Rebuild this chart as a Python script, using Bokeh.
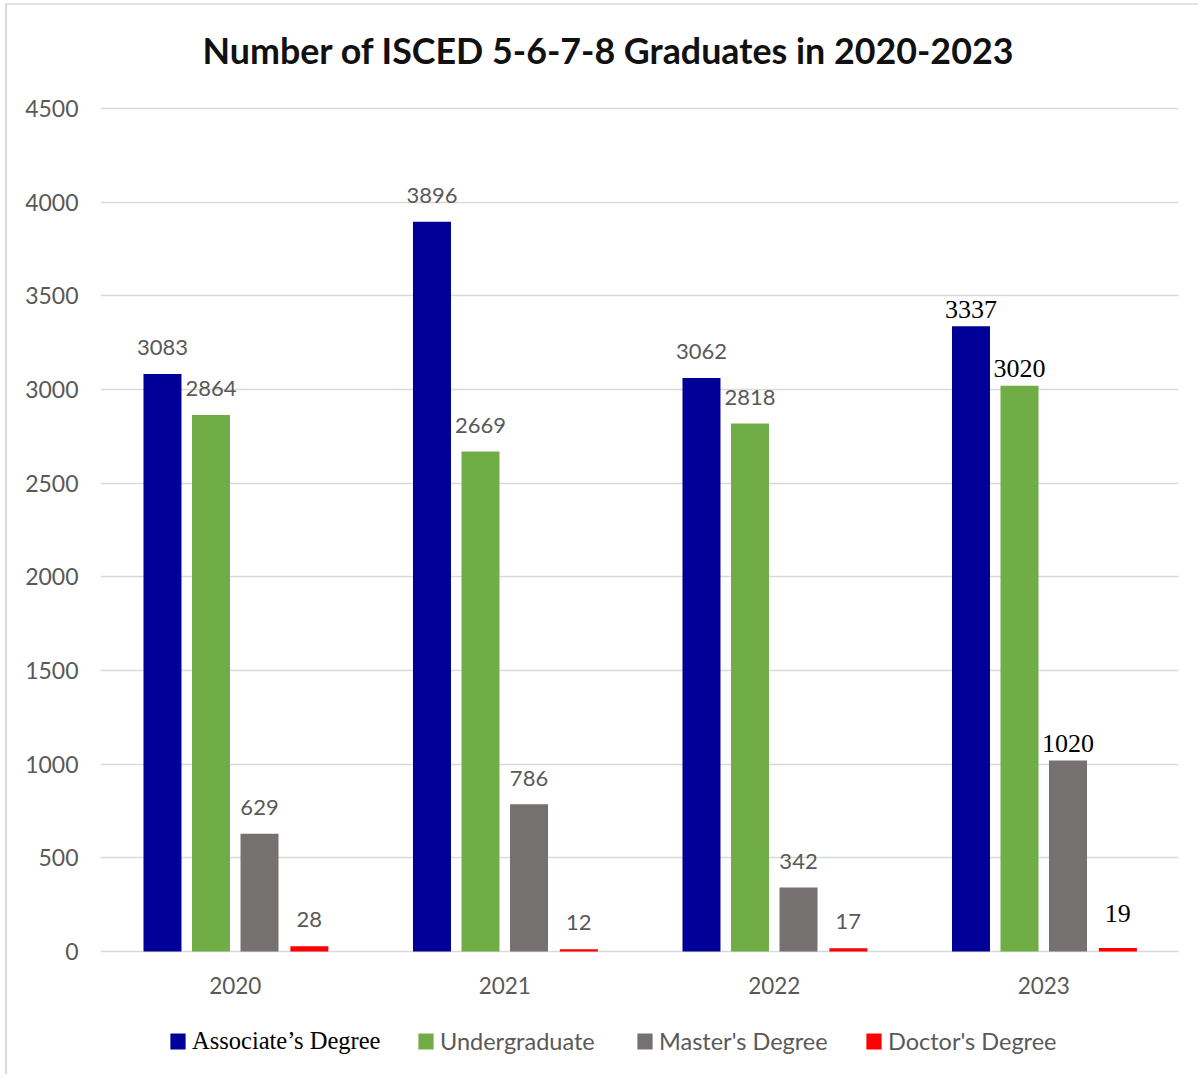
from bokeh.plotting import figure
from bokeh.models import (ColumnDataSource, Range1d, FactorRange, FixedTicker,
                          Legend, LegendItem, CDSView, IndexFilter)
from bokeh.transform import dodge
from bokeh.core.properties import value
from bokeh.embed import file_html
from bokeh.resources import INLINE

# ---------------- data ----------------
title_text = "Number of ISCED 5-6-7-8 Graduates in 2020-2023"
years = ["2020", "2021", "2022", "2023"]
associate = [3083, 3896, 3062, 3337]
undergraduate = [2864, 2669, 2818, 3020]
masters = [629, 786, 342, 1020]
doctors = [28, 12, 17, 19]
series_names = ["Associate\u2019s Degree", "Undergraduate", "Master's Degree", "Doctor's Degree"]
y_ticks = [0, 500, 1000, 1500, 2000, 2500, 3000, 3500, 4000, 4500]

# ---------------- layout / style ----------------
OX, OY = 7, 5                       # page offset of the canvas (after css margin+border)
W, H = 1193, 1071
frame_left, frame_right = 100 - OX, 1178 - OX
frame_top, frame_bottom = 86, 1068 - OY
px_top, px_zero = 108 - OY, 951 - OY  # pixel rows of the top tick and of zero
y_top = y_ticks[-1]
k = (px_zero - px_top) / y_top       # pixels per unit
y_end = y_top + (px_top - frame_top) / k
y_start = -(frame_bottom - px_zero) / k

colors = ["#000099", "#70AD47", "#767171", "#FF0000"]
offsets = [-0.27, -0.09, 0.09, 0.275]
bar_w = 0.141
sans = "Lato"
serif = "Liberation Serif"
gray_txt = "#595959"

p = figure(width=W, height=H,
           x_range=FactorRange(*years, range_padding=0),
           y_range=Range1d(y_start, y_end),
           output_backend="svg", toolbar_location=None,
           min_border_left=frame_left, min_border_right=W - frame_right,
           min_border_top=frame_top, min_border_bottom=H - frame_bottom)
p.styles = {"margin-left": "5px", "margin-top": "3px",
            "border-left": "2px solid #DADADA", "border-top": "2px solid #E2E2E2"}

p.title.text = title_text
p.title.text_font = sans
p.title.text_font_style = "bold"
p.title.text_font_size = "35.8px"
p.title.text_color = "#111111"
p.title.align = "left"
p.title.offset = 102
p.title.standoff = 40

p.outline_line_color = None
p.background_fill_color = "white"
p.border_fill_color = "white"

p.xgrid.grid_line_color = None
p.ygrid.grid_line_color = "#D9D9D9"
p.ygrid.grid_line_width = 1.5
p.ygrid.ticker = FixedTicker(ticks=y_ticks)

p.xaxis.visible = False
ya = p.yaxis[0]
ya.ticker = FixedTicker(ticks=y_ticks)
ya.axis_line_color = None
ya.major_tick_line_color = None
ya.minor_tick_line_color = None
ya.major_tick_out = 0
ya.major_tick_in = 0
ya.minor_tick_out = 0
ya.major_label_text_font = sans
ya.major_label_text_font_size = "23px"
ya.major_label_text_color = gray_txt
ya.major_label_standoff = 22

# category labels under the groups
cat_src = ColumnDataSource(dict(year=years, zero=[0] * len(years)))
p.text(x="year", y="zero", text="year", source=cat_src,
       text_font=value(sans), text_font_size="22.5px", text_color=gray_txt,
       text_align="center", text_baseline="middle", y_offset=34)

series = [associate, undergraduate, masters, doctors]
sans_gap = [-26, -26, -26, -27]
serif_gap = [-17, -17, -17, -34]
renderers = []
for i, vals in enumerate(series):
    src = ColumnDataSource(dict(year=years, v=vals, lab=[str(v) for v in vals]))
    xd = dodge("year", offsets[i], range=p.x_range)
    r = p.vbar(x=xd, top="v", width=bar_w, source=src,
               fill_color=colors[i], line_color=None)
    renderers.append(r)
    p.text(x=xd, y="v", text="lab", source=src,
           view=CDSView(filter=IndexFilter([0, 1, 2])),
           text_font=value(sans), text_font_size="22px", text_color=gray_txt,
           text_align="center", text_baseline="alphabetic", y_offset=sans_gap[i])
    p.text(x=xd, y="v", text="lab", source=src,
           view=CDSView(filter=IndexFilter([3])),
           text_font=value(serif), text_font_size="26px", text_color="#000000",
           text_align="center", text_baseline="alphabetic", y_offset=serif_gap[i])

# legends: one per item so the first can use a serif face
leg_x = [68, 316, 535, 764]
for i, r in enumerate(renderers):
    lg = Legend(items=[LegendItem(label=series_names[i], renderers=[r])],
                location=(leg_x[i], 13), orientation="horizontal",
                padding=0, margin=0, spacing=0,
                glyph_width=19, glyph_height=20, label_height=16,
                label_standoff=5,
                label_text_font=serif if i == 0 else sans,
                label_text_font_size="24.5px" if i == 0 else "23.5px",
                label_text_color="#000000" if i == 0 else gray_txt,
                border_line_color=None, background_fill_alpha=0)
    p.add_layout(lg, "center")

open("out.html", "w").write(file_html(p, INLINE))
